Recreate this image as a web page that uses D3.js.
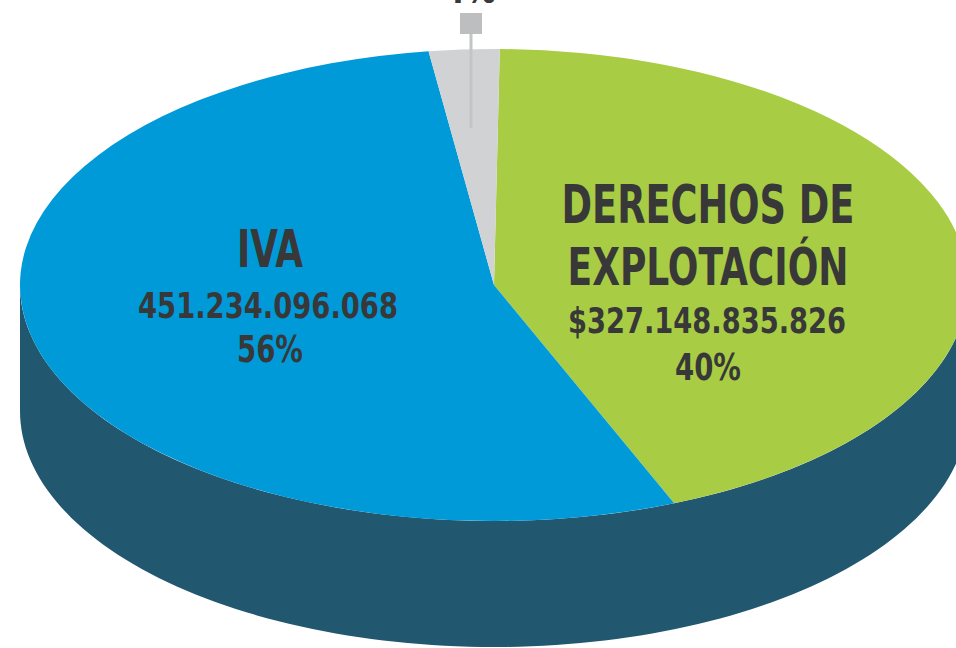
<!DOCTYPE html>
<html>
<head>
<meta charset="utf-8">
<script src="https://cdn.jsdelivr.net/npm/d3@7"></script>
<style>
html, body { margin: 0; padding: 0; background: #fff; }
svg { display: block; }
</style>
</head>
<body>
<svg id="chart" width="956" height="648"></svg>
<script>
// ---- data ----
const categories = ["DERECHOS DE EXPLOTACIÓN", "IVA", "OTROS"];
const amountLabels = ["$327.148.835.826", "451.234.096.068", ""];
const percentLabels = ["40%", "56%", "4%"];
// slice sizes as drawn in the picture (share of the full circle, %)
const drawnShares = [43.6, 54.0, 2.4];
const sliceColors = ["#a8cd45", "#009ad9", "#d1d2d4"];

// ---- layout ----
const cx = 494, cy = 285, rx = 474, ry = 236, depth = 126;
const startDeg = 0.7;
const sideColor = "#21576f";
const textColor = "#383839";
const font = "'Liberation Sans Narrow', 'DejaVu Sans Condensed', Roboto, sans-serif";

const svg = d3.select("#chart");

// side (cylinder wall) – front half of the ellipse extruded downward
const sidePath = d3.path();
sidePath.moveTo(cx - rx, cy);
sidePath.lineTo(cx - rx, cy + depth);
const N = 120;
for (let i = 0; i <= N; i++) {
  const t = Math.PI - Math.PI * i / N;
  sidePath.lineTo(cx + rx * Math.cos(t), cy + depth + ry * Math.sin(t));
}
sidePath.lineTo(cx + rx, cy);
for (let i = 0; i <= N; i++) {
  const t = Math.PI * i / N;
  sidePath.lineTo(cx + rx * Math.cos(t), cy + ry * Math.sin(t));
}
sidePath.closePath();
svg.append("path").attr("d", sidePath.toString()).attr("fill", sideColor);

// top face slices
const pie = d3.pie().sort(null).value(d => d)
  .startAngle(startDeg * Math.PI / 180)
  .endAngle(startDeg * Math.PI / 180 + 2 * Math.PI);
const arcs = pie(drawnShares);
const arc = d3.arc().innerRadius(0).outerRadius(rx);

const topFace = svg.append("g")
  .attr("transform", `translate(${cx},${cy}) scale(1,${ry / rx})`);
topFace.selectAll("path").data(arcs).join("path")
  .attr("d", arc)
  .attr("fill", (d, i) => sliceColors[i]);

// callout for the small slice
const lx = 471;
svg.append("line")
  .attr("x1", lx).attr("x2", lx)
  .attr("y1", 34).attr("y2", 128)
  .attr("stroke", "#c3c4c6").attr("stroke-width", 3);
svg.append("rect")
  .attr("x", lx - 11).attr("y", 13).attr("width", 22).attr("height", 21)
  .attr("fill", "#bdbec0");
svg.append("text")
  .attr("x", lx - 1).attr("y", 3)
  .attr("text-anchor", "middle")
  .attr("font-family", font).attr("font-weight", "bold")
  .attr("font-size", 34).attr("fill", textColor)
  .text(percentLabels[2]);

// labels
function line(x, y, txt, size, width) {
  const t = svg.append("text")
    .attr("x", x).attr("y", y)
    .attr("text-anchor", "middle")
    .attr("font-family", font).attr("font-weight", "bold")
    .attr("font-size", size).attr("fill", textColor)
    .text(txt);
  if (width) t.attr("textLength", width).attr("lengthAdjust", "spacingAndGlyphs");
  return t;
}

// IVA
line(270, 267, categories[1], 52, 66);
line(268, 318, amountLabels[1], 36, 260);
line(270, 362, percentLabels[1], 37, 66);

// Derechos de explotación
const words = categories[0].split(" ");
line(708, 223, words.slice(0, 2).join(" "), 53, 293);
line(708, 285, words.slice(2).join(" "), 52, 281);
line(707, 333, amountLabels[0], 36, 278);
line(708, 380, percentLabels[0], 38, 66);
</script>
</body>
</html>
